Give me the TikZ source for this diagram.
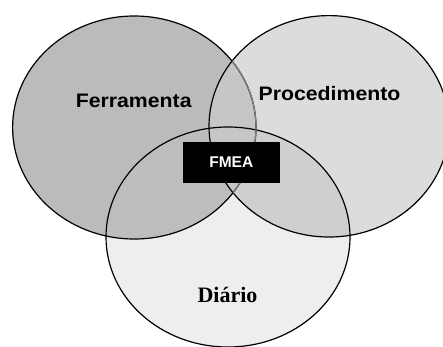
\documentclass[tikz,border=0pt]{standalone}
\usepackage{fontspec}
\setmainfont{Liberation Serif}
\newfontfamily\sansb{Liberation Sans}[FakeStretch=1.09]
\newfontfamily\sansbox{Liberation Sans}
\definecolor{cL}{HTML}{BBBBBB}
\definecolor{cR}{HTML}{DCDCDC}
\definecolor{cB}{HTML}{EEEEEE}
\definecolor{cLR}{HTML}{C6C6C6}
\definecolor{cLB}{HTML}{BDBDBD}
\definecolor{cRB}{HTML}{CFCFCF}
\definecolor{cLRB}{HTML}{C6C6C6}
\begin{document}
\begin{tikzpicture}[x=1pt,y=-1pt,
  outline/.style={draw=black,line width=1.2pt},
  innerline/.style={draw=black!50,line width=1.2pt},
  sanslabel/.style={anchor=base,inner sep=0pt,font=\sansb\bfseries\fontsize{19.5}{23}\selectfont},
  seriflabel/.style={anchor=base,inner sep=0pt,font=\bfseries\fontsize{22}{26}\selectfont},
  fmeabox/.style={fill=black,text=white,inner sep=0pt,minimum width=97.3pt,minimum height=41pt,font=\sansbox\bfseries\fontsize{15.5}{18}\selectfont}]
\useasboundingbox (0,0) rectangle (443,346);
\def\pL{(134.3,127.5) ellipse [x radius=121.7, y radius=111.5]}
\def\pR{(329,126.3) ellipse [x radius=120, y radius=110.7]}
\def\pB{(228,237) ellipse [x radius=122, y radius=110]}
% fills
\fill[cR] \pR;
\fill[cB] \pB;
\begin{scope}\clip \pR; \fill[cRB] \pB; \end{scope}
\fill[cL] \pL;
\begin{scope}\clip \pL; \fill[cLR] \pR; \fill[cLB] \pB; \end{scope}
\begin{scope}\clip \pL; \clip \pR; \fill[cLRB] \pB; \end{scope}
% outlines
\path[outline] \pR;
\path[outline] \pB;
\path[outline] \pL;
\begin{scope}\clip \pR; \path[innerline] \pL; \end{scope}
% labels
\node[sanslabel] (ferr) at (133.7,107) {Ferramenta};
\node[sanslabel] (proc) at (329.5,100.5) {Procedimento};
\node[seriflabel] (diar) at (227.5,302) {Diário};
\node[fmeabox] (fmea) at (231.3,162.2) {FMEA};
\end{tikzpicture}
\end{document}
